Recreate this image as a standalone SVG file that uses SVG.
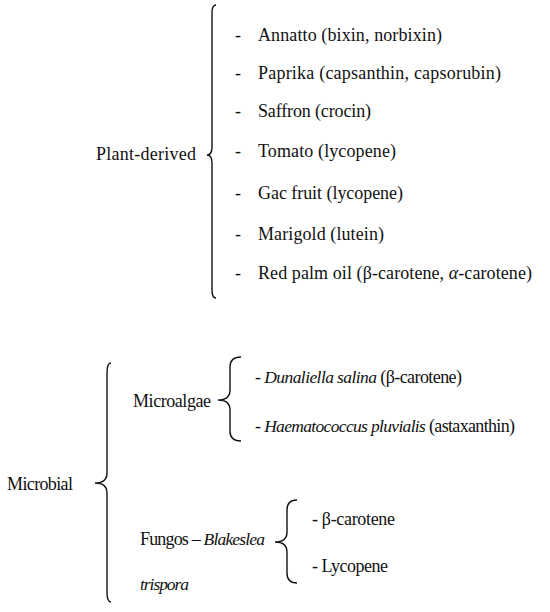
<svg xmlns="http://www.w3.org/2000/svg" width="550" height="612" viewBox="0 0 550 612">
<style>
text{font-family:"Liberation Serif","DejaVu Serif",serif;font-size:18px;fill:#111}
.i{font-style:italic;font-size:17.5px}
.br{fill:none;stroke:#111;stroke-width:1.4}
</style>
<rect width="550" height="612" fill="#fff"/>
<g id="connectors">
<path class="br" d="M216,5 Q212,5 212,13 L212,147 Q212,155 207,155 Q212,155 212,163 L212,290 Q212,298 216,298"/>
<path class="br" d="M111,363 Q107,363 107,373 L107,473 Q107,483 95,483 Q107,483 107,493 L107,592 Q107,602 111,602"/>
<path class="br" d="M241,357 Q230,357 230,367 L230,390 Q230,400 218,400 Q230,400 230,410 L230,431 Q230,441 241,441"/>
<path class="br" d="M297,500 Q287,500 287,510 L287,532 Q287,542 275,542 Q287,542 287,552 L287,573 Q287,583 297,583"/>
</g>
<g id="plant-derived"><text x="96" y="160" textLength="100" lengthAdjust="spacing">Plant-derived</text></g>
<g id="plant-items">
<text x="235" y="41">-</text><text x="258" y="41" textLength="184" lengthAdjust="spacing">Annatto (bixin, norbixin)</text>
<text x="235" y="79">-</text><text x="258" y="79" textLength="243" lengthAdjust="spacing">Paprika (capsanthin, capsorubin)</text>
<text x="235" y="117">-</text><text x="258" y="117" textLength="113" lengthAdjust="spacing">Saffron (crocin)</text>
<text x="235" y="157">-</text><text x="258" y="157" textLength="138" lengthAdjust="spacing">Tomato (lycopene)</text>
<text x="235" y="199">-</text><text x="258" y="199" textLength="145" lengthAdjust="spacing">Gac fruit (lycopene)</text>
<text x="235" y="240">-</text><text x="258" y="240" textLength="126" lengthAdjust="spacing">Marigold (lutein)</text>
<text x="235" y="279">-</text><text x="258" y="279" textLength="274" lengthAdjust="spacing">Red palm oil (β-carotene, <tspan class="i" style="font-size:18px">α</tspan>-carotene)</text>
</g>
<g id="microbial"><text x="7" y="490" textLength="66" lengthAdjust="spacing">Microbial</text></g>
<g id="microalgae"><text x="133" y="407" textLength="78" lengthAdjust="spacing">Microalgae</text></g>
<g id="microalgae-items">
<text x="255" y="383" textLength="207" lengthAdjust="spacing">- <tspan class="i">Dunaliella salina</tspan> (β-carotene)</text>
<text x="255" y="432" textLength="260" lengthAdjust="spacing">- <tspan class="i">Haematococcus pluvialis</tspan> (astaxanthin)</text>
</g>
<g id="fungos">
<text x="140" y="545" textLength="125" lengthAdjust="spacing">Fungos – <tspan class="i">Blakeslea</tspan></text>
<text x="140" y="590" class="i" textLength="49" lengthAdjust="spacing">trispora</text>
</g>
<g id="fungos-items">
<text x="312" y="525" textLength="83" lengthAdjust="spacing">- β-carotene</text>
<text x="312" y="572" textLength="76" lengthAdjust="spacing">- Lycopene</text>
</g>
</svg>
